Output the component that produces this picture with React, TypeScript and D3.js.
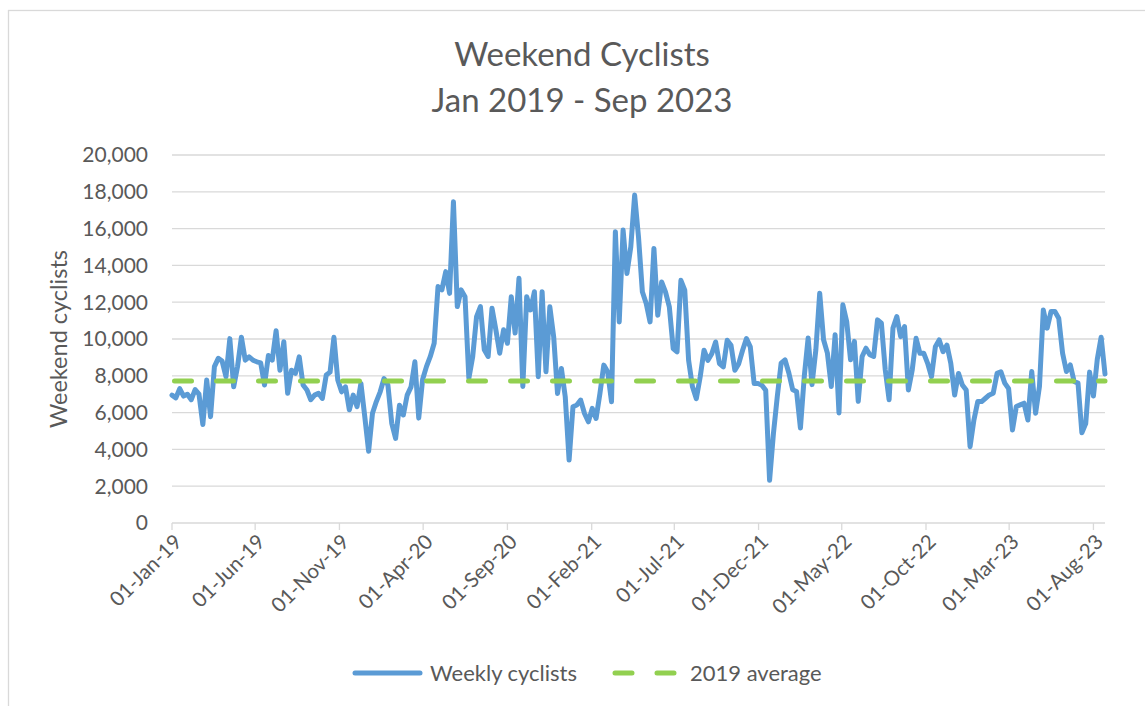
import React from 'react';
import * as d3 from 'd3';

// Weekly weekend cyclist counts, one value per week from 01-Jan-19
const firstWeek = '2019-01-01';
const weeklyCyclists = [
  6950, 6800, 7300, 6900, 7000, 6700, 7250, 7000, 5350, 7770, 5780, 8500, 8950, 8800, 7950, 10020,
  7400, 8500, 10100, 8850, 9030, 8850, 8760, 8700, 7500, 9100, 8850, 10450, 8300, 9850, 7050, 8300,
  8130, 9030, 7500, 7230, 6700, 6950, 7050, 6770, 8040, 8200, 10100, 7770, 7130, 7400, 6150, 6950,
  6320, 7590, 5780, 3900, 5960, 6600, 7130, 7850, 7500, 5420, 4600, 6400, 5870, 6950, 7400, 8760,
  5700, 7800, 8500, 9050, 9770, 12850, 12670, 13660, 12480, 17460, 11760, 12670, 12300, 7870, 9050, 11220,
  11760, 9410, 9050, 11670, 10500, 9230, 10500, 9770, 12300, 10320, 13300, 7420, 12300, 11580, 12570, 7950,
  12570, 8220, 11750, 10120, 7040, 8400, 6860, 3420, 6320, 6410, 6680, 5950, 5500, 6230, 5680, 7040,
  8580, 8220, 6590, 15830, 10930, 15920, 13560, 15010, 17820, 15550, 12570, 11930, 10930, 14920, 11290, 13100,
  12560, 11740, 9480, 9300, 13190, 12650, 8840, 7400, 6760, 7940, 9390, 8840, 9200, 9840, 8660, 8480,
  9930, 9660, 8300, 8660, 9390, 10020, 9570, 7580, 7580, 7490, 7210, 2320, 4860, 6880, 8690, 8870,
  8150, 7240, 7150, 5160, 7970, 10050, 7520, 9410, 12490, 9960, 9230, 7420, 10230, 5980, 11860, 10950,
  8870, 9870, 6610, 9050, 9500, 9140, 9050, 11040, 10860, 8330, 6700, 10590, 11220, 10130, 10670, 7230,
  8320, 10040, 9220, 9220, 8680, 7950, 9580, 9950, 9310, 9670, 8680, 6960, 8130, 7500, 7230, 4150,
  5600, 6600, 6600, 6780, 6960, 7050, 8130, 8220, 7600, 7300, 5060, 6330, 6420, 6510, 5600, 8230,
  5970, 7420, 11580, 10590, 11490, 11490, 11130, 9230, 8230, 8590, 7690, 7600, 4900, 5400, 8200, 6900,
  8900, 10100, 8100,
];
const average2019 = 7720;

const xTickLabels = [
  '01-Jan-19', '01-Jun-19', '01-Nov-19', '01-Apr-20', '01-Sep-20', '01-Feb-21',
  '01-Jul-21', '01-Dec-21', '01-May-22', '01-Oct-22', '01-Mar-23', '01-Aug-23',
];
const yTicks = [0, 2000, 4000, 6000, 8000, 10000, 12000, 14000, 16000, 18000, 20000];

const W = 1145;
const H = 706;
const plot = { left: 172, right: 1105, top: 155, bottom: 523 };
const FONT = "Lato, 'Open Sans', sans-serif";
const TEXT = '#595959';
const GRID = '#D9D9D9';
const BLUE = '#5B9BD5';
const GREEN = '#92D050';

const parseTick = d3.timeParse('%d-%b-%y');
const start = d3.timeParse('%Y-%m-%d')(firstWeek) as Date;

const App = () => {
  const points = weeklyCyclists.map((v, i) => ({ date: d3.timeDay.offset(start, i * 7), value: v }));

  const x = d3.scaleTime()
    .domain(d3.extent(points, d => d.date) as [Date, Date])
    .range([plot.left, plot.right]);

  const y = d3.scaleLinear()
    .domain([0, 20000])
    .range([plot.bottom, plot.top]);

  const line = d3.line<{ date: Date; value: number }>()
    .x(d => x(d.date))
    .y(d => y(d.value));

  const avgLine = d3.line<{ date: Date; value: number }>()
    .x(d => x(d.date))
    .y(() => y(average2019));

  const fmt = d3.format(',');

  return (
    <svg width={W} height={H} style={{ position: 'absolute', left: 0, top: 0, display: 'block' }}
      fontFamily={FONT}>
      <rect x={8.5} y={10.5} width={1150} height={720} fill="#fff" stroke={GRID} strokeWidth={1.3} />

      {/* title */}
      <text x={582} y={66} textAnchor="middle" fontSize={33} fill={TEXT}>Weekend Cyclists</text>
      <text x={582} y={112} textAnchor="middle" fontSize={33} fill={TEXT}>Jan 2019 - Sep 2023</text>

      {/* gridlines + y labels */}
      {yTicks.map(t => (
        <g key={t}>
          <line x1={plot.left} x2={plot.right} y1={y(t)} y2={y(t)} stroke={GRID} strokeWidth={1.3} />
          <text x={148} y={y(t)} dy="0.35em" textAnchor="end" fontSize={21} fill={TEXT}>{fmt(t)}</text>
        </g>
      ))}

      {/* x ticks */}
      {xTickLabels.map(l => {
        const tx = x(parseTick(l) as Date);
        return (
          <g key={l}>
            <line x1={tx} x2={tx} y1={plot.bottom} y2={plot.bottom + 7} stroke={GRID} strokeWidth={1.3} />
            <text transform={`translate(${tx + 6},${plot.bottom + 15}) rotate(-45)`} textAnchor="end"
              dy="0.35em" fontSize={20.5} fill={TEXT}>{l}</text>
          </g>
        );
      })}

      {/* y axis title */}
      <text transform={`translate(67,${(plot.top + plot.bottom) / 2}) rotate(-90)`} textAnchor="middle"
        fontSize={23.5} fill={TEXT}>Weekend cyclists</text>

      {/* series */}
      <path d={line(points) || ''} fill="none" stroke={BLUE} strokeWidth={5}
        strokeLinejoin="round" strokeLinecap="round" />
      <path d={avgLine(points) || ''} fill="none" stroke={GREEN} strokeWidth={5}
        strokeDasharray="17 25" strokeDashoffset={-2.5} strokeLinecap="round" />

      {/* legend */}
      <line x1={355} x2={420} y1={673} y2={673} stroke={BLUE} strokeWidth={5} strokeLinecap="round" />
      <text x={430} y={673} dy="0.35em" fontSize={22} fill={TEXT}>Weekly cyclists</text>
      <line x1={615} x2={680} y1={673} y2={673} stroke={GREEN} strokeWidth={5}
        strokeDasharray="17 25" strokeLinecap="round" />
      <text x={690} y={673} dy="0.35em" fontSize={22} fill={TEXT}>2019 average</text>
    </svg>
  );
};

export default App;
